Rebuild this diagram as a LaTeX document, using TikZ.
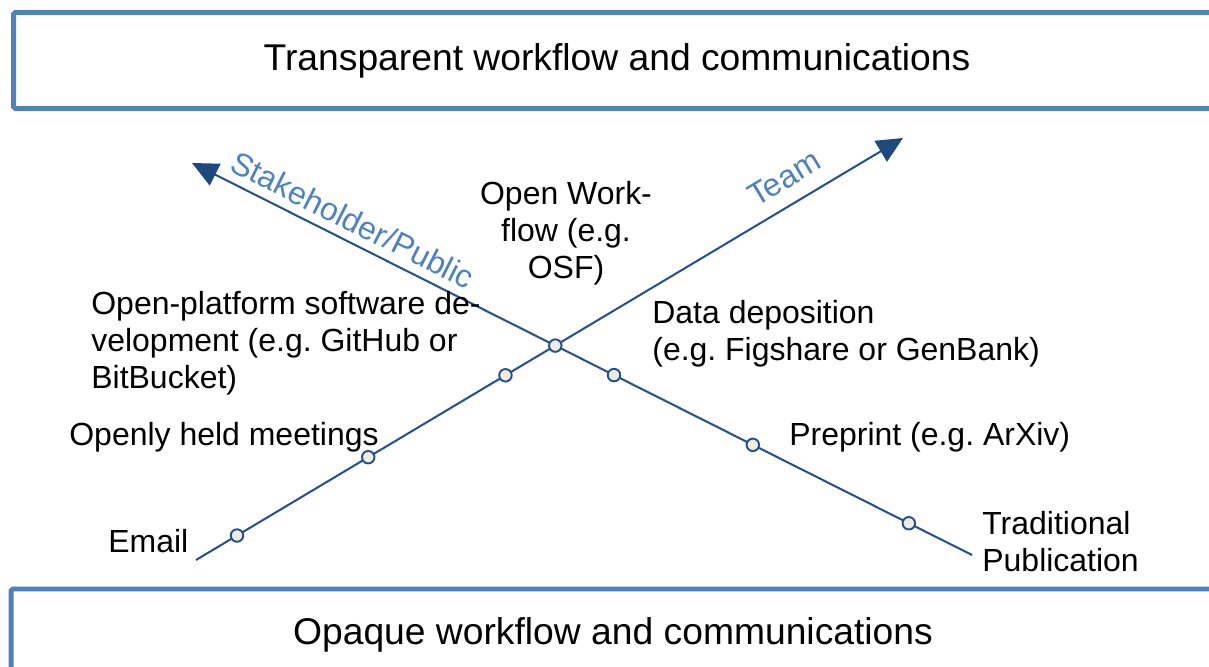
\documentclass[tikz,border=0pt]{standalone}
\usepackage{fontspec}
\setmainfont{Liberation Sans}
\usetikzlibrary{arrows.meta,calc}
\definecolor{boxblue}{RGB}{79,129,189}
\definecolor{axisblue}{RGB}{38,80,140}
\definecolor{headblue}{RGB}{31,73,125}
\definecolor{dotfill}{RGB}{237,236,226}
\frenchspacing
\begin{document}
\begin{tikzpicture}[x=0.02cm,y=-0.02cm,
  frame/.style={draw=boxblue, line width=2.8pt, rounded corners=1pt, inner sep=0pt,
    font=\fontsize{21.2}{25}\selectfont},
  lbl/.style={font=\fontsize{18.2}{20.8}\selectfont, inner sep=0pt},
  axis/.style={draw=axisblue, line width=1.15pt,
    -{Triangle[length=0.52cm,width=0.48cm,color=headblue]}},
  axlbl/.style={font=\fontsize{18.2}{20.8}\selectfont, text=boxblue, inner sep=0pt},
  dot/.style={circle, draw=axisblue, fill=dotfill, line width=1.1pt,
    minimum size=0.25cm, inner sep=0pt}]
\useasboundingbox (0,0) rectangle (1209,666);
% boxes
\node[frame, minimum width=24.14cm, minimum height=1.92cm] (top) at (617,60.5)
  {Transparent workflow and communications};
\node[frame, minimum width=24.08cm, minimum height=1.84cm] (bot) at (613,635)
  {Opaque workflow and communications};
% axes
\coordinate (sT) at (196,560);
\coordinate (tT) at (903,138);
\coordinate (tS) at (192,163);
\coordinate (eS) at (972,555);
\draw[axis] (sT) -- (tT);
\draw[axis] (eS) -- (tS);
\node[axlbl, rotate=-26.7] (lS) at (353,220) {Stakeholder/Public};
\node[axlbl, rotate=31] (lT) at (784,178) {Team};
% dots
\node[dot] (d1) at ($(sT)!0.058!(tT)$) {};
\node[dot] (d2) at ($(sT)!0.2436!(tT)$) {};
\node[dot] (d3) at ($(sT)!0.4377!(tT)$) {};
\node[dot] (d4) at (intersection of sT--tT and tS--eS) {};
\node[dot] (d5) at ($(tS)!0.541!(eS)$) {};
\node[dot] (d6) at ($(tS)!0.719!(eS)$) {};
\node[dot] (d7) at ($(tS)!0.919!(eS)$) {};
% labels (base anchor = baseline of the last line)
\node[lbl, anchor=base west, align=left] (osd) at (91,388)
  {Open-platform software de-\\velopment (e.g. GitHub or\\BitBucket)};
\node[lbl, anchor=base west] (ohm) at (69,445) {Openly held meetings};
\node[lbl, anchor=base west] (em) at (108,552) {Email};
\node[lbl, anchor=base, align=center] (owf) at (566,278) {Open Work-\\flow (e.g.\\OSF)};
\node[lbl, anchor=base west, align=left] (dd) at (652,360)
  {Data deposition\\(e.g. Figshare or GenBank)};
\node[lbl, anchor=base west] (pp) at (789,445) {Preprint (e.g. ArXiv)};
\node[lbl, anchor=base west, align=left] (tp) at (982,571) {Traditional\\Publication};
\end{tikzpicture}
\end{document}
